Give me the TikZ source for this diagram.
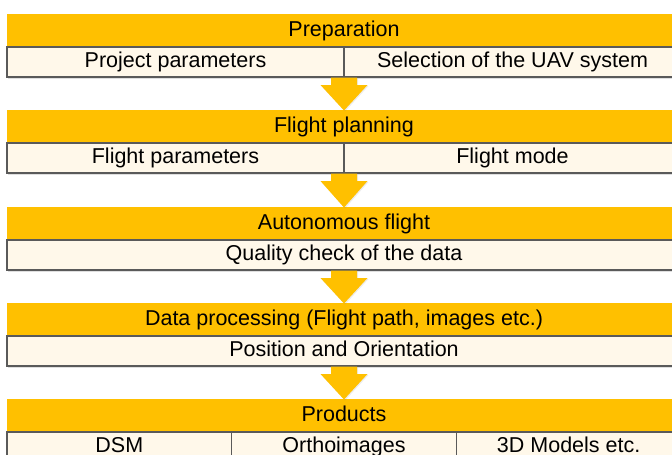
\documentclass[tikz,border=0pt]{standalone}
\usepackage{fontspec}
\setmainfont{Liberation Sans}
\usetikzlibrary{calc,shadows}
\definecolor{hdr}{HTML}{FFC000}
\definecolor{rowfill}{HTML}{FFF8EA}
\definecolor{edgegray}{HTML}{5A5A5A}
\begin{document}
\begin{tikzpicture}[x=1pt,y=-1pt,
  txt/.style={font=\fontsize{21.5}{24}\selectfont, text=black, inner sep=0pt, outer sep=0pt,
     text height=15.5pt, text depth=4.5pt},
  hdrbox/.style={txt, rectangle, fill=hdr, draw=none, minimum width=674pt, minimum height=33pt},
  cell/.style={txt, rectangle, fill=rowfill, draw=edgegray, line width=1.1pt, minimum height=30pt,
     drop shadow={shadow xshift=1pt, shadow yshift=-1.5pt, opacity=0.25}},
  half/.style={cell, minimum width=337pt},
  third/.style={cell, minimum width=224.67pt},
  full/.style={cell, minimum width=674pt},
  blockarrow/.style={fill=hdr, draw=none, drop shadow={shadow xshift=1pt, shadow yshift=-1pt, opacity=0.15}}
]
\useasboundingbox (0,0) rectangle (672,455);
\clip (0,0) rectangle (672,455);

% Block 1
\node[hdrbox] (h1) at (344,30.5) {Preparation};
\node[half] (r1a) at (175.5,62) {Project parameters};
\node[half] (r1b) at (512.5,62) {Selection of the UAV system};

% Block 2
\node[hdrbox] (h2) at (344,126.5) {Flight planning};
\node[half] (r2a) at (175.5,158) {Flight parameters};
\node[half] (r2b) at (512.5,158) {Flight mode};

% Block 3
\node[hdrbox] (h3) at (344,223.5) {Autonomous flight};
\node[full] (r3) at (344,255) {Quality check of the data};

% Block 4
\node[hdrbox] (h4) at (344,319.5) {Data processing (Flight path, images etc.)};
\node[full] (r4) at (344,351) {Position and Orientation};

% Block 5
\node[hdrbox] (h5) at (344,415.5) {Products};
\node[third] (r5a) at (119.33,447) {DSM};
\node[third] (r5b) at (344,447) {Orthoimages};
\node[third] (r5c) at (568.67,447) {3D Models etc.};

% Block arrows
\foreach \r/\h in {r1a/h2, r2a/h3, r3/h4, r4/h5}{
  \coordinate (s) at (h1.center |- \r.south);
  \coordinate (t) at (h1.center |- \h.north);
  \path[blockarrow] ($(s)+(-13,0.6)$) -- ($(s)+(13,0.6)$) -- ($(s)+(13,8)$) -- ($(s)+(23.5,8)$)
     -- ($(t)+(0,0.5)$) -- ($(s)+(-23.5,8)$) -- ($(s)+(-13,8)$) -- cycle;
}
\end{tikzpicture}
\end{document}
